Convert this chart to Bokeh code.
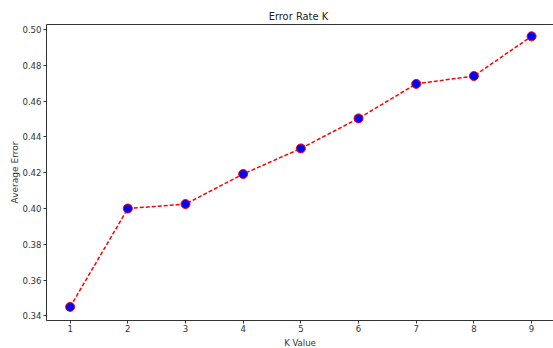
from bokeh.plotting import figure
from bokeh.models import LinearAxis, FixedTicker, Range1d, Title
from bokeh.embed import file_html
from bokeh.resources import INLINE

k_values = [1, 2, 3, 4, 5, 6, 7, 8, 9]
avg_error = [0.345, 0.400, 0.4025, 0.4193, 0.4336, 0.4504, 0.4697, 0.4741, 0.4963]
y_ticks = [0.34, 0.36, 0.38, 0.40, 0.42, 0.44, 0.46, 0.48, 0.50]
x_ticks = [1, 2, 3, 4, 5, 6, 7, 8, 9]

FONT = "DejaVu Sans Condensed"
AX = "#333333"

p = figure(width=553, height=348, output_backend="svg", toolbar_location=None,
           x_range=Range1d(0.59, 9.38), y_range=Range1d(0.3374, 0.5029),
           title="Error Rate  K", min_border_left=46, min_border_right=0,
           min_border_top=24, min_border_bottom=28, x_axis_location=None,
           y_axis_location=None)
p.outline_line_color = None
p.xgrid.visible = False
p.ygrid.visible = False
p.background_fill_color = "white"
p.border_fill_color = "white"

p.title.align = "center"
p.title.text_font = FONT
p.title.text_font_style = "normal"
p.title.text_font_size = "11px"
p.title.text_color = "#222222"
p.title.offset = 0
p.title.standoff = 3

def style(ax):
    ax.axis_line_color = AX
    ax.major_tick_line_color = AX
    ax.minor_tick_line_color = None
    ax.major_tick_in = 0
    ax.major_tick_out = 3
    ax.major_label_text_font = FONT
    ax.major_label_text_font_size = "9.5px"
    ax.major_label_text_color = "#333333"
    ax.major_label_standoff = 1

xa = LinearAxis(ticker=FixedTicker(ticks=x_ticks))
style(xa)
p.add_layout(xa, "below")

ya = LinearAxis(ticker=FixedTicker(ticks=y_ticks))
style(ya)
ya.major_label_overrides = {t: f"{t:.2f}" for t in y_ticks}
ya.major_label_standoff = 2
p.add_layout(ya, "left")

top = LinearAxis(ticker=FixedTicker(ticks=[]))
top.axis_line_color = AX
top.major_tick_line_color = None
top.minor_tick_line_color = None
top.major_tick_out = 0
top.major_label_text_font_size = "0px"
top.major_label_standoff = 0
p.add_layout(top, "above")

xlab = Title(text="K Value", align="center", text_font=FONT,
             text_font_size="9.5px", text_font_style="normal",
             text_color="#333333", standoff=1)
p.add_layout(xlab, "below")

ylab = Title(text="Average Error", align="center", text_font="DejaVu Sans",
             text_font_size="9px", text_font_style="normal",
             text_color="#333333", standoff=0)
p.add_layout(ylab, "left")

p.line(k_values, avg_error, line_color="red", line_width=1.5, line_dash="4 2")
p.scatter(k_values, avg_error, size=9, fill_color="blue", line_color="red",
          line_width=1)

open("out.html", "w").write(file_html(p, INLINE))
